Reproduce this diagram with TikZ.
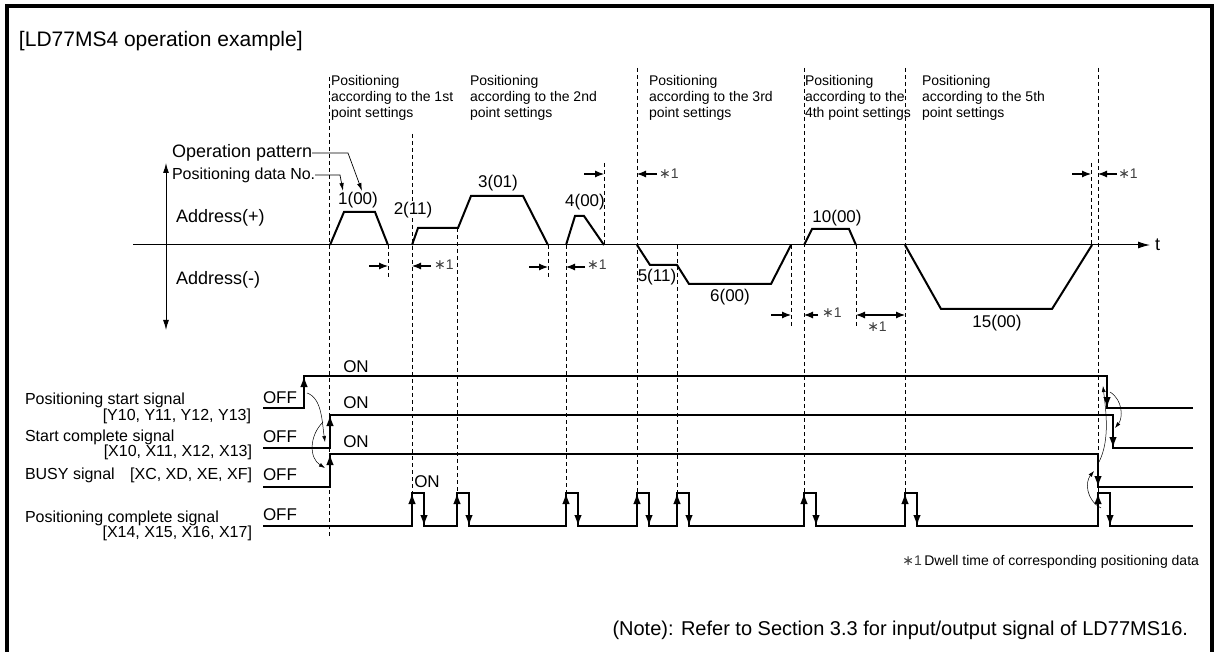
\documentclass[tikz,border=0pt]{standalone}
\usepackage{fontspec}
\setmainfont{Liberation Sans}
\newfontfamily\djv{DejaVu Sans}
\usetikzlibrary{arrows.meta}
\newcommand\starone{{\djv ∗}1}
\begin{document}
\begin{tikzpicture}[x=1pt,y=-1pt,
  every node/.style={inner sep=0pt,outer sep=0pt},
  f14/.style={font=\fontsize{14}{16}\selectfont},
  f16/.style={font=\fontsize{16}{18}\selectfont},
  f17/.style={font=\fontsize{17}{19}\selectfont},
  f18/.style={font=\fontsize{18}{20}\selectfont},
  f20/.style={font=\fontsize{20}{23}\selectfont},
  f21/.style={font=\fontsize{21}{24}\selectfont},
  sec/.style={f14,align=left,anchor=north west},
  dsh/.style={line width=0.8pt,dash pattern=on 4pt off 3pt},
  prof/.style={line width=2pt},
  sig/.style={line width=2.4pt},
  dw/.style={line width=1.1pt,-{Latex[length=9pt,width=7pt]}},
  dwd/.style={line width=1.1pt,{Latex[length=9pt,width=7pt]}-{Latex[length=9pt,width=7pt]}},
  eup/.style={line width=1.6pt,-{Latex[length=11pt,width=7.5pt]}},
  cur/.style={line width=0.5pt,-{Latex[length=6pt,width=4pt]}},
  lead/.style={line width=0.7pt,-{Latex[length=8pt,width=4.5pt]}},
  stl/.style={f14,text=black!75}
]
\useasboundingbox (0,0) rectangle (1216,652);
% frame (open at the bottom)
\draw[line width=4pt] (6.5,670) -- (6.5,6) -- (1211.5,6) -- (1211.5,670);

\node[f21,anchor=west] (title) at (19,41) {[LD77MS4 operation example]};

% section labels
\node[sec] (p1) at (331,75) {Positioning\\according to the 1st\\point settings};
\node[sec] (p2) at (470,75) {Positioning\\according to the 2nd\\point settings};
\node[sec] (p3) at (649,75) {Positioning\\according to the 3rd\\point settings};
\node[sec] (p4) at (805,75) {Positioning\\according to the\\4th point settings};
\node[sec] (p5) at (922,75) {Positioning\\according to the 5th\\point settings};

% dashed guide lines
\foreach \x/\a/\b in {329/77/537, 412/134/492, 457/228/492, 566/245/492, 637/68/492,
  677/245/492, 804/68/492, 905/68/492, 1098/68/492, 388/245/278, 548/245/278,
  604/163/245, 791/245/327, 856/245/327, 1091/163/245}
  \draw[dsh] (\x,\a) -- (\x,\b);

% axes
\coordinate (ax0) at (133,245);
\coordinate (ax1) at (1150,245);
\draw[line width=1pt,-{Latex[length=12pt,width=7pt]}] (ax0) -- (ax1);
\node[f18,anchor=west] (t) at (1155,245) {t};
\coordinate (ay0) at (166,163);
\coordinate (ay1) at (166,330);
\draw[line width=1pt,{Latex[length=10pt,width=6pt]}-{Latex[length=10pt,width=6pt]}] (ay0) -- (ay1);

\node[f18,anchor=west] (op) at (172,153) {Operation pattern};
\node[f16,anchor=west] (pd) at (172,175) {Positioning data No.};
\node[f18,anchor=west] (adp) at (176,218) {Address(+)};
\node[f18,anchor=west] (adm) at (176,280) {Address(-)};

% profiles
\draw[prof] (330,245) -- (344,212) -- (375,212) -- (388,245);
\draw[prof] (412,245) -- (418,228) -- (458,228) -- (471,196) -- (523,196) -- (548,245);
\draw[prof] (566,245) -- (575,216) -- (584,216) -- (604,245);
\draw[prof] (637,245) -- (650,265) -- (677,265) -- (689,284) -- (771,284) -- (791,245);
\draw[prof] (804,245) -- (812,229) -- (849,229) -- (856,245);
\draw[prof] (905,245) -- (941,309) -- (1052,309) -- (1092,245);

\node[f17] (l1) at (358,200) {1(00)};
\node[f17,fill=white] (l2) at (413,210) {2(11)};
\node[f17] (l3) at (498,183) {3(01)};
\node[f17] (l4) at (585,202) {4(00)};
\node[f17] (l5) at (657,277) {5(11)};
\node[f17] (l6) at (730,297) {6(00)};
\node[f17] (l10) at (837,218) {10(00)};
\node[f17] (l15) at (997,323) {15(00)};

% leader lines
\coordinate (opA) at (362,191);
\coordinate (pdA) at (343,191);
\draw[lead] (op.east) -- (348,153) -- (opA);
\draw[lead] (pd.east) -- (340,175) -- (pdA);

% dwell markers
\draw[dw] (369,266) -- (388,266);
\draw[dw] (431,266) -- (412,266);
\node[stl] (s1) at (444,265) {\starone};
\draw[dw] (529,267) -- (548,267);
\draw[dw] (585,267) -- (566,267);
\node[stl] (s2) at (597,265) {\starone};
\draw[dw] (584,174) -- (604,174);
\draw[dw] (657,174) -- (637,174);
\node[stl] (s3) at (669,174) {\starone};
\draw[dw] (771,315) -- (791,315);
\draw[dw] (818,315) -- (804,315);
\node[stl] (s4) at (832,313) {\starone};
\draw[dwd] (856,315) -- (905,315);
\node[stl] (s5) at (877,327) {\starone};
\draw[dw] (1072,174) -- (1091,174);
\draw[dw] (1117,174) -- (1098,174);
\node[stl] (s6) at (1128,174) {\starone};

% signal labels
\node[f16,anchor=west] (n1a) at (25,400) {Positioning start signal};
\node[f16,anchor=east] (n1b) at (251,416) {[Y10, Y11, Y12, Y13]};
\node[f16,anchor=west] (n2a) at (25,437) {Start complete signal};
\node[f16,anchor=east] (n2b) at (252,452) {[X10, X11, X12, X13]};
\node[f16,anchor=west] (n3a) at (25,475) {BUSY signal};
\node[f16,anchor=east] (n3b) at (252,475) {[XC, XD, XE, XF]};
\node[f16,anchor=west] (n4a) at (25,518) {Positioning complete signal};
\node[f16,anchor=east] (n4b) at (252,533) {[X14, X15, X16, X17]};

\foreach \y/\n in {398/o1,437/o2,475/o3,515/o4} \node[f17] (\n) at (280,\y) {OFF};
\node[f17] (on1) at (356,367) {ON};
\node[f17] (on2) at (356,403) {ON};
\node[f17] (on3) at (356,442) {ON};
\node[f17] (on4) at (427,482) {ON};

% signals
\draw[sig] (263,408) -- (304,408) -- (304,376) -- (1107,376) -- (1107,408) -- (1193,408);
\draw[sig] (263,448) -- (330,448) -- (330,415) -- (1113,415) -- (1113,448) -- (1193,448);
\draw[sig] (263,487) -- (330,487) -- (330,454) -- (1098,454) -- (1098,487) -- (1193,487);
\draw[sig] (263,526) foreach \r in {412,457,566,637,677,804,905,1098}
  { -- (\r,526) -- (\r,493) -- (\r+12,493) -- (\r+12,526) } -- (1193,526);

\draw[eup] (304,408) -- (304,376);
\draw[eup] (330,448) -- (330,415);
\draw[eup] (330,487) -- (330,454);
\draw[eup] (1107,376) -- (1107,408);
\draw[eup] (1113,415) -- (1113,448);
\draw[eup] (1098,454) -- (1098,487);
\foreach \r in {412,457,566,637,677,804,905,1098} {
  \draw[eup] (\r,526) -- (\r,493);
  \draw[eup] (\r+12,493) -- (\r+12,526);
}

% cause/effect curves
\draw[cur] (307,393) .. controls (322,398) and (322,422) .. (325,442);
\draw[cur] (323,422) .. controls (309,436) and (309,458) .. (325,468);
\draw[cur] (1101,508) .. controls (1086,500) and (1085,482) .. (1094,471);
\draw[cur] (1099,462) .. controls (1110,440) and (1106,412) .. (1103,386);
\draw[cur] (1110,392) .. controls (1123,400) and (1123,418) .. (1115,428);

% footnotes
\node[f14,anchor=east] (fn) at (1199,562) {{\color{black!75}\starone}\,Dwell time of corresponding positioning data};
\node[f20,anchor=east] (note) at (1188,630) {(Note): Refer to Section 3.3 for input/output signal of LD77MS16.};
\end{tikzpicture}
\end{document}
